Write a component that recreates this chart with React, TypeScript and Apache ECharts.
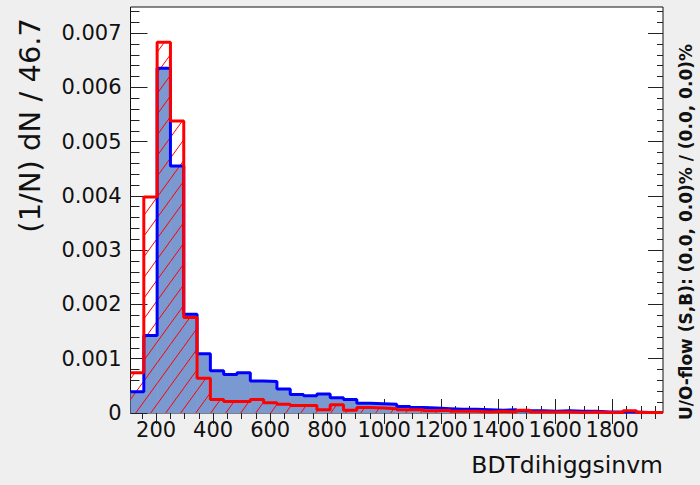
import React, { useEffect, useRef } from "react";
import * as echarts from "echarts";

// ---- Data ----
const binWidth = 46.7;
const nBins = 40;
const xMin = 110;
const xMax = xMin + nBins * binWidth;
const yMax = 0.00748;

// background-like (blue, filled)
const blueValues = [
  0.00039, 0.00143, 0.00635, 0.00455, 0.00182, 0.00109, 0.00078, 0.00071, 0.00074, 0.00059,
  0.00058, 0.00044, 0.00034, 0.00032, 0.00035, 0.00028, 0.00025, 0.00018, 0.00017, 0.00016,
  0.00012, 0.0001, 0.00009, 0.00008, 0.00007, 0.00007, 0.00006, 0.00005, 0.00006, 0.00004,
  0.00004, 0.00003, 0.00004, 0.00003, 0.00003, 0.00002, 0.00002, 0.00002, 0.00001, 0.00001,
];
// signal-like (red, hatched)
const redValues = [
  0.00074, 0.00398, 0.00683, 0.00538, 0.00176, 0.00064, 0.00025, 0.00021, 0.00021, 0.00025,
  0.00019, 0.00016, 0.00014, 0.00014, 0.00006, 0.00015, 0.00005, 0.0001, 0.00009, 0.00008,
  0.00006, 0.00006, 0.00004, 0.00005, 0.00003, 0.00003, 0.00002, 0.00003, 0.00002, 0.00005,
  0.00002, 0.00002, 0.00002, 0.00001, 0.00002, 0.00001, 0.00001, 0.00004, 0.00001, 0.00001,
];

const xMajorTicks = [200, 400, 600, 800, 1000, 1200, 1400, 1600, 1800];
const xMinorTicks = Array.from({ length: 37 }, (_, i) => 150 + i * 50);
const yMajorTicks = [0, 0.001, 0.002, 0.003, 0.004, 0.005, 0.006, 0.007];
const yMinorTicks = Array.from({ length: 38 }, (_, i) => +(i * 0.0002).toFixed(4));

const xTitle = "BDTdihiggsinvm";
const yTitle = "(1/N) dN / 46.7";
const sideText = "U/O-flow (S,B): (0.0, 0.0)% / (0.0, 0.0)%";

const FONT = "'DejaVu Sans', Verdana, sans-serif";
const BLUE = "#0000ff";
const RED = "#ff0000";
const BLUE_FILL = "#7a99d1";

const edges = Array.from({ length: nBins }, (_, i) => xMin + i * binWidth);
const binData = (vals: number[]) => vals.map((v, i) => [edges[i], edges[i] + binWidth, v]);
const stepData = (vals: number[]) => [
  ...vals.map((v, i) => [edges[i], v]),
  [xMax, vals[vals.length - 1]],
];

const GRID = { left: 130.5, right: 37, top: 7, bottom: 72 };

function makeXAxis(position: "bottom" | "top", ticks: number[], len: number, labels: boolean) {
  return {
    type: "value",
    position,
    min: xMin,
    max: xMax,
    axisLine: { show: false },
    splitLine: { show: false },
    axisTick: {
      show: true,
      inside: true,
      length: len,
      customValues: ticks,
      lineStyle: { color: "#222", width: 1 },
    },
    axisLabel: labels
      ? {
          show: true,
          customValues: xMajorTicks,
          margin: 6,
          fontFamily: FONT,
          fontSize: 21,
          color: "#111",
          formatter: (v: number) => String(Math.round(v)),
        }
      : { show: false },
  };
}

function makeYAxis(position: "left" | "right", ticks: number[], len: number, labels: boolean) {
  return {
    type: "value",
    position,
    min: 0,
    max: yMax,
    axisLine: { show: false },
    splitLine: { show: false },
    axisTick: {
      show: true,
      inside: true,
      length: len,
      customValues: ticks,
      lineStyle: { color: "#222", width: 1 },
    },
    axisLabel: labels
      ? {
          show: true,
          customValues: yMajorTicks,
          margin: 9,
          fontFamily: FONT,
          fontSize: 21,
          color: "#111",
          formatter: (v: number) => (Math.abs(v) < 1e-9 ? "0" : v.toFixed(3)),
        }
      : { show: false },
  };
}

// hatch: lines with slope ~54 deg, horizontal spacing 15px
const HATCH_T = 1.38;
const HATCH_C = 20.7;

export default function App() {
  const ref = useRef<HTMLDivElement>(null);
  useEffect(() => {
    if (!ref.current) return;
    const chart = echarts.init(ref.current, null, { renderer: "svg" });
    const option: any = {
      animation: false,
      backgroundColor: "#efefef",
      grid: {
        ...GRID,
        show: true,
        backgroundColor: "#ffffff",
        borderColor: "#111",
        borderWidth: 1,
        containLabel: false,
      },
      xAxis: [
        makeXAxis("bottom", xMajorTicks, 14, true),
        makeXAxis("bottom", xMinorTicks, 7, false),
        makeXAxis("top", xMajorTicks, 11, false),
        makeXAxis("top", xMinorTicks, 6, false),
      ],
      yAxis: [
        makeYAxis("left", yMajorTicks, 17, true),
        makeYAxis("left", yMinorTicks, 9, false),
        makeYAxis("right", yMajorTicks, 15, false),
        makeYAxis("right", yMinorTicks, 6, false),
      ],
      series: [
        {
          type: "custom",
          name: "B fill",
          xAxisIndex: 0,
          yAxisIndex: 0,
          data: binData(blueValues),
          renderItem: (params: any, api: any) => {
            const p0 = api.coord([api.value(0), api.value(2)]);
            const p1 = api.coord([api.value(1), 0]);
            return {
              type: "rect",
              shape: { x: p0[0], y: p0[1], width: p1[0] - p0[0] + 0.5, height: p1[1] - p0[1] },
              style: { fill: BLUE_FILL },
            };
          },
        },
        {
          type: "line",
          name: "B",
          xAxisIndex: 0,
          yAxisIndex: 0,
          step: "end",
          symbol: "none",
          data: stepData(blueValues),
          lineStyle: { color: BLUE, width: 3 },
        },
        {
          type: "custom",
          name: "S hatch",
          xAxisIndex: 0,
          yAxisIndex: 0,
          data: binData(redValues),
          renderItem: (params: any, api: any) => {
            const p0 = api.coord([api.value(0), api.value(2)]);
            const p1 = api.coord([api.value(1), 0]);
            const rx0 = p0[0], rx1 = p1[0], ry0 = p0[1], ry1 = p1[1];
            const children: any[] = [];
            const kStart = Math.ceil((HATCH_T * rx0 + ry0) / HATCH_C);
            const kEnd = Math.floor((HATCH_T * rx1 + ry1) / HATCH_C);
            for (let k = kStart; k <= kEnd; k++) {
              const c = k * HATCH_C;
              const xa = Math.max(rx0, (c - ry1) / HATCH_T);
              const xb = Math.min(rx1, (c - ry0) / HATCH_T);
              if (xb > xa) {
                children.push({
                  type: "line",
                  shape: { x1: xa, y1: c - HATCH_T * xa, x2: xb, y2: c - HATCH_T * xb },
                  style: { stroke: RED, lineWidth: 1 },
                });
              }
            }
            return { type: "group", children };
          },
        },
        {
          type: "line",
          name: "S",
          xAxisIndex: 0,
          yAxisIndex: 0,
          step: "end",
          symbol: "none",
          data: stepData(redValues),
          lineStyle: { color: RED, width: 3 },
        },
      ],
      graphic: [
        {
          type: "text",
          right: 37,
          top: 453,
          style: { text: xTitle, font: `23.5px ${FONT}`, fill: "#111" },
        },
        {
          type: "text",
          x: 30,
          y: 18,
          rotation: Math.PI / 2,
          style: {
            text: yTitle,
            font: `29px ${FONT}`,
            fill: "#111",
            align: "right",
            verticalAlign: "middle",
          },
        },
        {
          type: "text",
          x: 686,
          y: 232,
          rotation: Math.PI / 2,
          style: {
            text: sideText,
            font: `bold 17px ${FONT}`,
            fill: "#111",
            align: "center",
            verticalAlign: "middle",
          },
        },
      ],
    };
    chart.setOption(option);
    return () => chart.dispose();
  }, []);
  return (
    <div
      ref={ref}
      style={{ position: "fixed", left: 0, top: 0, width: 700, height: 485 }}
    />
  );
}
